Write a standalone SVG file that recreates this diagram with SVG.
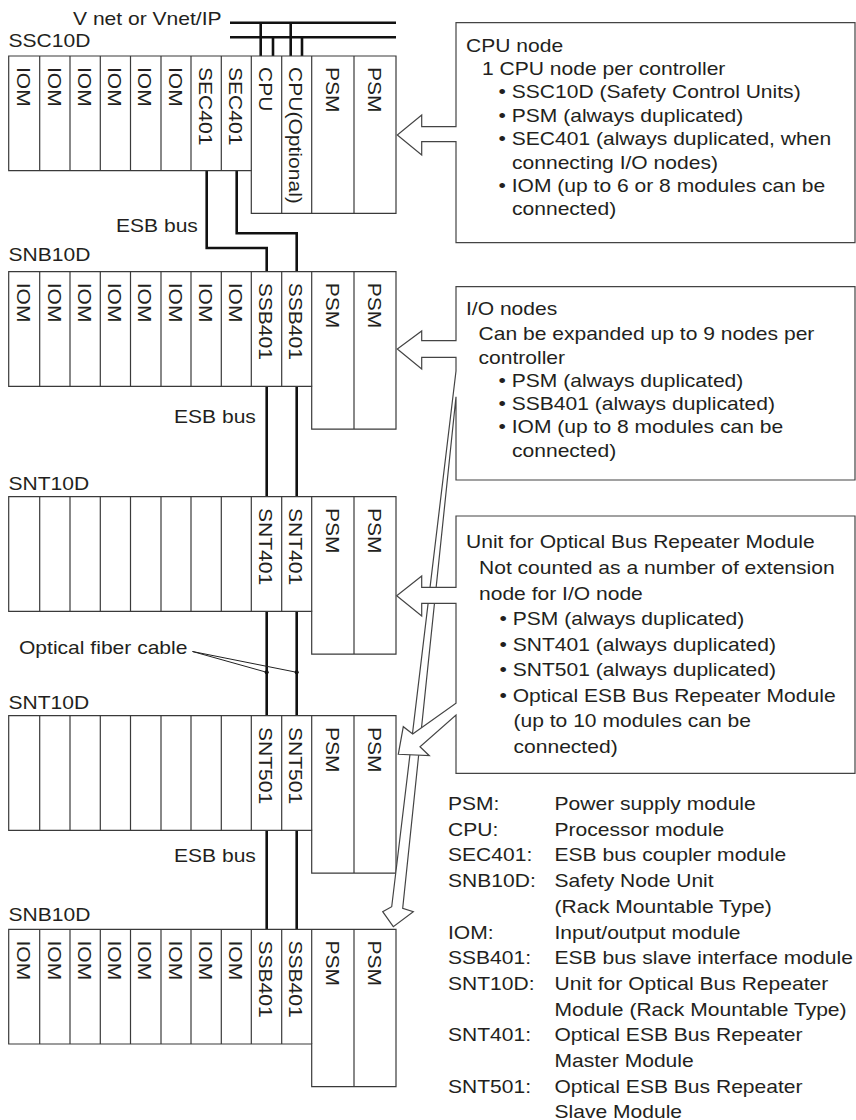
<svg xmlns="http://www.w3.org/2000/svg" width="856" height="1120" viewBox="0 0 856 1120">
<style>
.t{font-family:"Liberation Sans",Arial,Helvetica,sans-serif;font-size:18px;fill:#231f20}
.rack{fill:#fff;stroke:#3a3a3a;stroke-width:1.2}
.dv{stroke:#3a3a3a;stroke-width:1.2;fill:none}
.bus{fill:none;stroke:#111;stroke-width:2.6}
.box{fill:#fff;stroke:#444;stroke-width:1.2;stroke-linejoin:miter}
.lead{stroke:#222;stroke-width:1;fill:none}
</style>
<rect width="856" height="1120" fill="#fff"/>

<!-- Connectors -->
<g id="connectors">
  <text class="t" transform="translate(73 25) scale(1.17 1)">V net or Vnet/IP</text>
  <path class="bus" d="M230,22.7 H396 M230,37.3 H396 M260.7,22.7 V56 M273,37.3 V56 M290.7,22.7 V56 M302,37.3 V56"/>
  <path class="bus" d="M206.7,170.7 V248 H266.7 V271.7 M236.7,170.7 V233.3 H296.7 V271.7"/>
  <path class="bus" d="M266.7,386.4 V496.7 M296.7,386.4 V496.7 M266.7,611.4 V715.7 M296.7,611.4 V715.7 M266.7,830.4 V929.3 M296.7,830.4 V929.3"/>
  <text class="t" transform="translate(116 232) scale(1.17 1)">ESB bus</text>
  <text class="t" transform="translate(174 423.3) scale(1.17 1)">ESB bus</text>
  <text class="t" transform="translate(174 861.7) scale(1.17 1)">ESB bus</text>
  <text class="t" transform="translate(19 654) scale(1.17 1)">Optical fiber cable</text>
  <path class="lead" d="M192.5,651.5 L266.7,672.3 M192.5,651.5 L296.7,672.3"/>
  <circle cx="266.7" cy="672.3" r="2" fill="#111"/>
  <circle cx="296.7" cy="672.3" r="2" fill="#111"/>
</g>

<!-- Rack 1 SSC10D -->
<g id="ssc10d">
  <text class="t" transform="translate(8.5 46.5) scale(1.17 1)">SSC10D</text>
  <path class="rack" d="M8.7,56 H396 V213.4 H251.3 V170.7 H8.7 Z"/>
  <path class="dv" d="M39.7,56 V170.7 M70,56 V170.7 M100.3,56 V170.7 M130.5,56 V170.7 M161,56 V170.7 M191,56 V170.7 M221.3,56 V170.7 M251.3,56 V170.7 M281.7,56 V213.4 M311.7,56 V213.4 M354,56 V213.4"/>
  <text class="t" transform="translate(16.9 67) rotate(90) scale(1.17 1)">IOM</text>
  <text class="t" transform="translate(47.55 67) rotate(90) scale(1.17 1)">IOM</text>
  <text class="t" transform="translate(77.85 67) rotate(90) scale(1.17 1)">IOM</text>
  <text class="t" transform="translate(108.1 67) rotate(90) scale(1.17 1)">IOM</text>
  <text class="t" transform="translate(138.45 67) rotate(90) scale(1.17 1)">IOM</text>
  <text class="t" transform="translate(168.7 67) rotate(90) scale(1.17 1)">IOM</text>
  <text class="t" transform="translate(198.85 67) rotate(90) scale(1.17 1)">SEC401</text>
  <text class="t" transform="translate(229 67) rotate(90) scale(1.17 1)">SEC401</text>
  <text class="t" transform="translate(259.2 67) rotate(90) scale(1.17 1)">CPU</text>
  <text class="t" transform="translate(289.4 67) rotate(90) scale(1.17 1)">CPU(Optional)</text>
  <text class="t" transform="translate(325.55 67) rotate(90) scale(1.17 1)">PSM</text>
  <text class="t" transform="translate(367.7 67) rotate(90) scale(1.17 1)">PSM</text>
</g>

<!-- Rack 2 SNB10D -->
<g id="snb10d-1">
  <text class="t" transform="translate(8.5 260.5) scale(1.17 1)">SNB10D</text>
  <path class="rack" d="M8.7,271.7 H396 V429.1 H311.7 V386.4 H8.7 Z"/>
  <path class="dv" d="M39.7,271.7 V386.4 M70,271.7 V386.4 M100.3,271.7 V386.4 M130.5,271.7 V386.4 M161,271.7 V386.4 M191,271.7 V386.4 M221.3,271.7 V386.4 M251.3,271.7 V386.4 M281.7,271.7 V386.4 M311.7,271.7 V386.4 M354,271.7 V429.1"/>
  <text class="t" transform="translate(16.9 282.7) rotate(90) scale(1.17 1)">IOM</text>
  <text class="t" transform="translate(47.55 282.7) rotate(90) scale(1.17 1)">IOM</text>
  <text class="t" transform="translate(77.85 282.7) rotate(90) scale(1.17 1)">IOM</text>
  <text class="t" transform="translate(108.1 282.7) rotate(90) scale(1.17 1)">IOM</text>
  <text class="t" transform="translate(138.45 282.7) rotate(90) scale(1.17 1)">IOM</text>
  <text class="t" transform="translate(168.7 282.7) rotate(90) scale(1.17 1)">IOM</text>
  <text class="t" transform="translate(198.85 282.7) rotate(90) scale(1.17 1)">IOM</text>
  <text class="t" transform="translate(229 282.7) rotate(90) scale(1.17 1)">IOM</text>
  <text class="t" transform="translate(259.2 282.7) rotate(90) scale(1.17 1)">SSB401</text>
  <text class="t" transform="translate(289.4 282.7) rotate(90) scale(1.17 1)">SSB401</text>
  <text class="t" transform="translate(325.55 282.7) rotate(90) scale(1.17 1)">PSM</text>
  <text class="t" transform="translate(367.7 282.7) rotate(90) scale(1.17 1)">PSM</text>
</g>

<!-- Rack 3 SNT10D -->
<g id="snt10d-1">
  <text class="t" transform="translate(8.5 490) scale(1.17 1)">SNT10D</text>
  <path class="rack" d="M8.7,496.7 H396 V654.1 H311.7 V611.4 H8.7 Z"/>
  <path class="dv" d="M39.7,496.7 V611.4 M70,496.7 V611.4 M100.3,496.7 V611.4 M130.5,496.7 V611.4 M161,496.7 V611.4 M191,496.7 V611.4 M221.3,496.7 V611.4 M251.3,496.7 V611.4 M281.7,496.7 V611.4 M311.7,496.7 V611.4 M354,496.7 V654.1"/>
  <text class="t" transform="translate(259.2 508) rotate(90) scale(1.17 1)">SNT401</text>
  <text class="t" transform="translate(289.4 508) rotate(90) scale(1.17 1)">SNT401</text>
  <text class="t" transform="translate(325.55 508) rotate(90) scale(1.17 1)">PSM</text>
  <text class="t" transform="translate(367.7 508) rotate(90) scale(1.17 1)">PSM</text>
</g>

<!-- Rack 4 SNT10D -->
<g id="snt10d-2">
  <text class="t" transform="translate(8.5 709.3) scale(1.17 1)">SNT10D</text>
  <path class="rack" d="M8.7,715.7 H396 V873.1 H311.7 V830.4 H8.7 Z"/>
  <path class="dv" d="M39.7,715.7 V830.4 M70,715.7 V830.4 M100.3,715.7 V830.4 M130.5,715.7 V830.4 M161,715.7 V830.4 M191,715.7 V830.4 M221.3,715.7 V830.4 M251.3,715.7 V830.4 M281.7,715.7 V830.4 M311.7,715.7 V830.4 M354,715.7 V873.1"/>
  <text class="t" transform="translate(259.2 727) rotate(90) scale(1.17 1)">SNT501</text>
  <text class="t" transform="translate(289.4 727) rotate(90) scale(1.17 1)">SNT501</text>
  <text class="t" transform="translate(325.55 727) rotate(90) scale(1.17 1)">PSM</text>
  <text class="t" transform="translate(367.7 727) rotate(90) scale(1.17 1)">PSM</text>
</g>

<!-- Rack 5 SNB10D -->
<g id="snb10d-2">
  <text class="t" transform="translate(8.5 920.7) scale(1.17 1)">SNB10D</text>
  <path class="rack" d="M8.7,929.3 H396 V1086.7 H311.7 V1044 H8.7 Z"/>
  <path class="dv" d="M39.7,929.3 V1044 M70,929.3 V1044 M100.3,929.3 V1044 M130.5,929.3 V1044 M161,929.3 V1044 M191,929.3 V1044 M221.3,929.3 V1044 M251.3,929.3 V1044 M281.7,929.3 V1044 M311.7,929.3 V1044 M354,929.3 V1086.7"/>
  <text class="t" transform="translate(16.9 940.5) rotate(90) scale(1.17 1)">IOM</text>
  <text class="t" transform="translate(47.55 940.5) rotate(90) scale(1.17 1)">IOM</text>
  <text class="t" transform="translate(77.85 940.5) rotate(90) scale(1.17 1)">IOM</text>
  <text class="t" transform="translate(108.1 940.5) rotate(90) scale(1.17 1)">IOM</text>
  <text class="t" transform="translate(138.45 940.5) rotate(90) scale(1.17 1)">IOM</text>
  <text class="t" transform="translate(168.7 940.5) rotate(90) scale(1.17 1)">IOM</text>
  <text class="t" transform="translate(198.85 940.5) rotate(90) scale(1.17 1)">IOM</text>
  <text class="t" transform="translate(229 940.5) rotate(90) scale(1.17 1)">IOM</text>
  <text class="t" transform="translate(259.2 940.5) rotate(90) scale(1.17 1)">SSB401</text>
  <text class="t" transform="translate(289.4 940.5) rotate(90) scale(1.17 1)">SSB401</text>
  <text class="t" transform="translate(325.55 940.5) rotate(90) scale(1.17 1)">PSM</text>
  <text class="t" transform="translate(367.7 940.5) rotate(90) scale(1.17 1)">PSM</text>
</g>

<!-- Note box: CPU node -->
<g id="note-cpu">
  <path class="box" d="M456,22.7 H855 V242.7 H456 V141.7 H421.7 V155 L397.3,135 L421.7,115 V126.7 H456 Z"/>
  <text class="t" transform="translate(466 51.5) scale(1.17 1)">CPU node</text>
  <text class="t" transform="translate(482 75) scale(1.17 1)">1 CPU node per controller</text>
  <text class="t" transform="translate(498.5 98.4) scale(1.17 1)">• SSC10D (Safety Control Units)</text>
  <text class="t" transform="translate(498.5 121.8) scale(1.17 1)">• PSM (always duplicated)</text>
  <text class="t" transform="translate(498.5 145.2) scale(1.17 1)">• SEC401 (always duplicated, when</text>
  <text class="t" transform="translate(512 168.6) scale(1.17 1)">connecting I/O nodes)</text>
  <text class="t" transform="translate(498.5 192) scale(1.17 1)">• IOM (up to 6 or 8 modules can be</text>
  <text class="t" transform="translate(512 215.4) scale(1.17 1)">connected)</text>
</g>

<!-- Note box: I/O nodes (with long arrow to lower SNB10D) -->
<g id="note-io">
  <path class="box" d="M456,286.7 H855 V480 H456 V396.7 L402.7,908.3 L413.3,911.7 L393.3,926.7 L382.7,911.7 L391.7,906.7 L456,371 V357.3 H421.7 V369 L397.3,349 L421.7,331 V340.7 H456 Z"/>
  <text class="t" transform="translate(466 314.5) scale(1.17 1)">I/O nodes</text>
  <text class="t" transform="translate(478.5 340.2) scale(1.17 1)">Can be expanded up to 9 nodes per</text>
  <text class="t" transform="translate(478.5 363.5) scale(1.17 1)">controller</text>
  <text class="t" transform="translate(498.5 386.8) scale(1.17 1)">• PSM (always duplicated)</text>
  <text class="t" transform="translate(498.5 410.1) scale(1.17 1)">• SSB401 (always duplicated)</text>
  <text class="t" transform="translate(498.5 433.4) scale(1.17 1)">• IOM (up to 8 modules can be</text>
  <text class="t" transform="translate(512 456.7) scale(1.17 1)">connected)</text>
</g>

<!-- Note box: Unit for Optical Bus Repeater Module -->
<g id="note-optical">
  <path class="box" d="M456,516 H855 V773.3 H456 V715 L420,746.7 L429.3,755.7 L398.3,754.3 L403.3,726.7 L412.7,734 L456,703.3 V603.3 H421.7 V616 L396.7,595.7 L421.7,576 V587.3 H456 Z"/>
  <text class="t" transform="translate(466 548.3) scale(1.17 1)">Unit for Optical Bus Repeater Module</text>
  <text class="t" transform="translate(479 574) scale(1.17 1)">Not counted as a number of extension</text>
  <text class="t" transform="translate(479 599.5) scale(1.17 1)">node for I/O node</text>
  <text class="t" transform="translate(499.5 625) scale(1.17 1)">• PSM (always duplicated)</text>
  <text class="t" transform="translate(499.5 650.5) scale(1.17 1)">• SNT401 (always duplicated)</text>
  <text class="t" transform="translate(499.5 676) scale(1.17 1)">• SNT501 (always duplicated)</text>
  <text class="t" transform="translate(499.5 701.5) scale(1.17 1)">• Optical ESB Bus Repeater Module</text>
  <text class="t" transform="translate(513.5 727) scale(1.17 1)">(up to 10 modules can be</text>
  <text class="t" transform="translate(513.5 752.5) scale(1.17 1)">connected)</text>
</g>

<!-- Legend -->
<g id="legend">
  <text class="t" transform="translate(448 810) scale(1.17 1)">PSM:</text>
  <text class="t" transform="translate(554.5 810) scale(1.17 1)">Power supply module</text>
  <text class="t" transform="translate(448 835.7) scale(1.17 1)">CPU:</text>
  <text class="t" transform="translate(554.5 835.7) scale(1.17 1)">Processor module</text>
  <text class="t" transform="translate(448 861.4) scale(1.17 1)">SEC401:</text>
  <text class="t" transform="translate(554.5 861.4) scale(1.17 1)">ESB bus coupler module</text>
  <text class="t" transform="translate(448 887.1) scale(1.17 1)">SNB10D:</text>
  <text class="t" transform="translate(554.5 887.1) scale(1.17 1)">Safety Node Unit</text>
  <text class="t" transform="translate(554.5 912.8) scale(1.17 1)">(Rack Mountable Type)</text>
  <text class="t" transform="translate(448 938.5) scale(1.17 1)">IOM:</text>
  <text class="t" transform="translate(554.5 938.5) scale(1.17 1)">Input/output module</text>
  <text class="t" transform="translate(448 964.2) scale(1.17 1)">SSB401:</text>
  <text class="t" transform="translate(554.5 964.2) scale(1.17 1)">ESB bus slave interface module</text>
  <text class="t" transform="translate(448 989.9) scale(1.17 1)">SNT10D:</text>
  <text class="t" transform="translate(554.5 989.9) scale(1.17 1)">Unit for Optical Bus Repeater</text>
  <text class="t" transform="translate(554.5 1015.6) scale(1.17 1)">Module (Rack Mountable Type)</text>
  <text class="t" transform="translate(448 1041.3) scale(1.17 1)">SNT401:</text>
  <text class="t" transform="translate(554.5 1041.3) scale(1.17 1)">Optical ESB Bus Repeater</text>
  <text class="t" transform="translate(554.5 1067) scale(1.17 1)">Master Module</text>
  <text class="t" transform="translate(448 1092.7) scale(1.17 1)">SNT501:</text>
  <text class="t" transform="translate(554.5 1092.7) scale(1.17 1)">Optical ESB Bus Repeater</text>
  <text class="t" transform="translate(554.5 1118.4) scale(1.17 1)">Slave Module</text>
</g>
</svg>
